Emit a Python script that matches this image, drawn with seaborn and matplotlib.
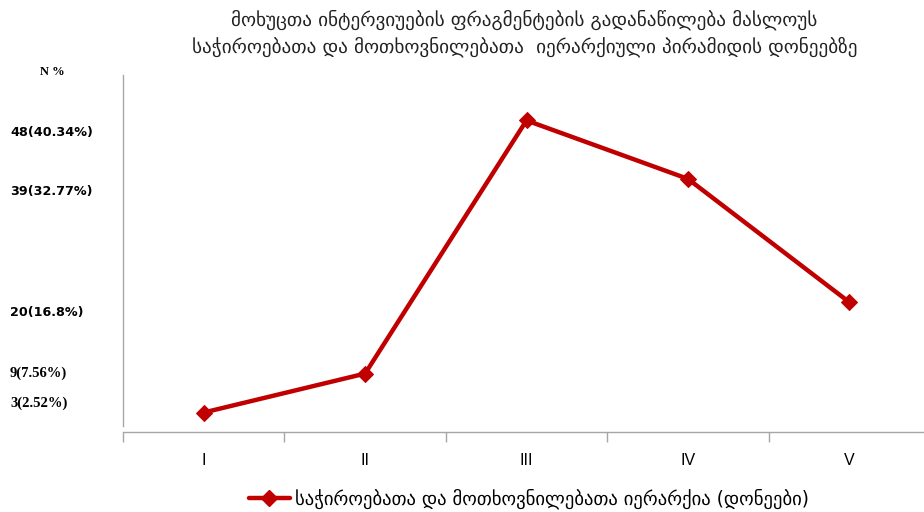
import matplotlib
matplotlib.use("Agg")
import matplotlib.pyplot as plt
import matplotlib.transforms as mtransforms
from matplotlib.lines import Line2D
import seaborn as sns
import pandas as pd

# ---- data ----
levels = ["I", "II", "III", "IV", "V"]
counts = [3, 9, 48, 39, 20]
value_labels = ["48(40.34%)", "39(32.77%)", "20(16.8%)", "9(7.56%)", "3(2.52%)"]
label_heights = [46.1, 37.1, 18.4, 9.0, 4.5]
title_lines = ["მოხუცთა ინტერვიუების ფრაგმენტების გადანაწილება მასლოუს",
               "საჭიროებათა და მოთხოვნილებათა  იერარქიული პირამიდის დონეებზე"]
legend_label = "საჭიროებათა და მოთხოვნილებათა იერარქია (დონეები)"
y_title = "N %"

df = pd.DataFrame({"level": levels, "count": counts})

sns.set_style("white")
plt.rcParams["font.family"] = ["DejaVu Sans"]

fig = plt.figure(figsize=(9.24, 5.12), dpi=100)
ax = fig.add_axes([123 / 924, 1 - 432 / 512, (930 - 123) / 924, (432 - 75) / 512])

red = "#C00000"
sns.lineplot(data=df, x="level", y="count", ax=ax, sort=False, color=red,
             linewidth=3.2, marker="D", markersize=8.5, markeredgecolor=red,
             markerfacecolor=red)

ax.set_xlim(-0.5, 4.5)
ax.set_ylim(0, 55)
ax.set_xlabel("")
ax.set_ylabel("")

for s in ["top", "right"]:
    ax.spines[s].set_visible(False)
ax.spines["left"].set_color("#A6A6A6")
ax.spines["left"].set_bounds(1.0, 55)
ax.spines["bottom"].set_color("#A6A6A6")
ax.spines["left"].set_linewidth(1.0)
ax.spines["bottom"].set_linewidth(1.0)

ax.set_yticks([])
ax.set_xticks(range(len(levels)))
ax.set_xticklabels(levels, fontsize=11.5, family="Liberation Sans")
ax.tick_params(axis="x", which="major", bottom=False, length=0, pad=15, colors="black")
ax.set_xticks([i - 0.5 for i in range(len(levels) + 1)], minor=True)
ax.tick_params(axis="x", which="minor", bottom=True, length=7, width=1,
               color="#A6A6A6", direction="out")

# value labels on the left
trans = mtransforms.blended_transform_factory(fig.transFigure, ax.transData)
for txt, h in zip(value_labels, label_heights):
    serif = txt.startswith("9(") or txt.startswith("3(")
    ax.text(10 / 924, h, txt, transform=trans, ha="left", va="center",
            fontsize=10.5 if serif else 9.2, fontweight="bold", color="black",
            family="Liberation Serif" if serif else "DejaVu Sans")
fig.text(40 / 924, 1 - 72 / 512, y_title, ha="left", va="center", fontsize=9,
         fontweight="bold", color="black", family="Liberation Serif")

# title
fig.text(524 / 924, 1 - 20 / 512, title_lines[0], ha="center", va="center",
         fontsize=13.8, color="#222222")
fig.text(525 / 924, 1 - 47 / 512, title_lines[1], ha="center", va="center",
         fontsize=13.8, color="#222222")

handle = Line2D([], [], color=red, linewidth=3.2, marker="D", markersize=8.5)
fig.legend([handle], [legend_label], loc="center", bbox_to_anchor=(529 / 924, 1 - 499 / 512),
           frameon=False, fontsize=13.4, handlelength=2.2, handletextpad=0.3,
           labelcolor="black")

fig.savefig("out.png", dpi=100)
